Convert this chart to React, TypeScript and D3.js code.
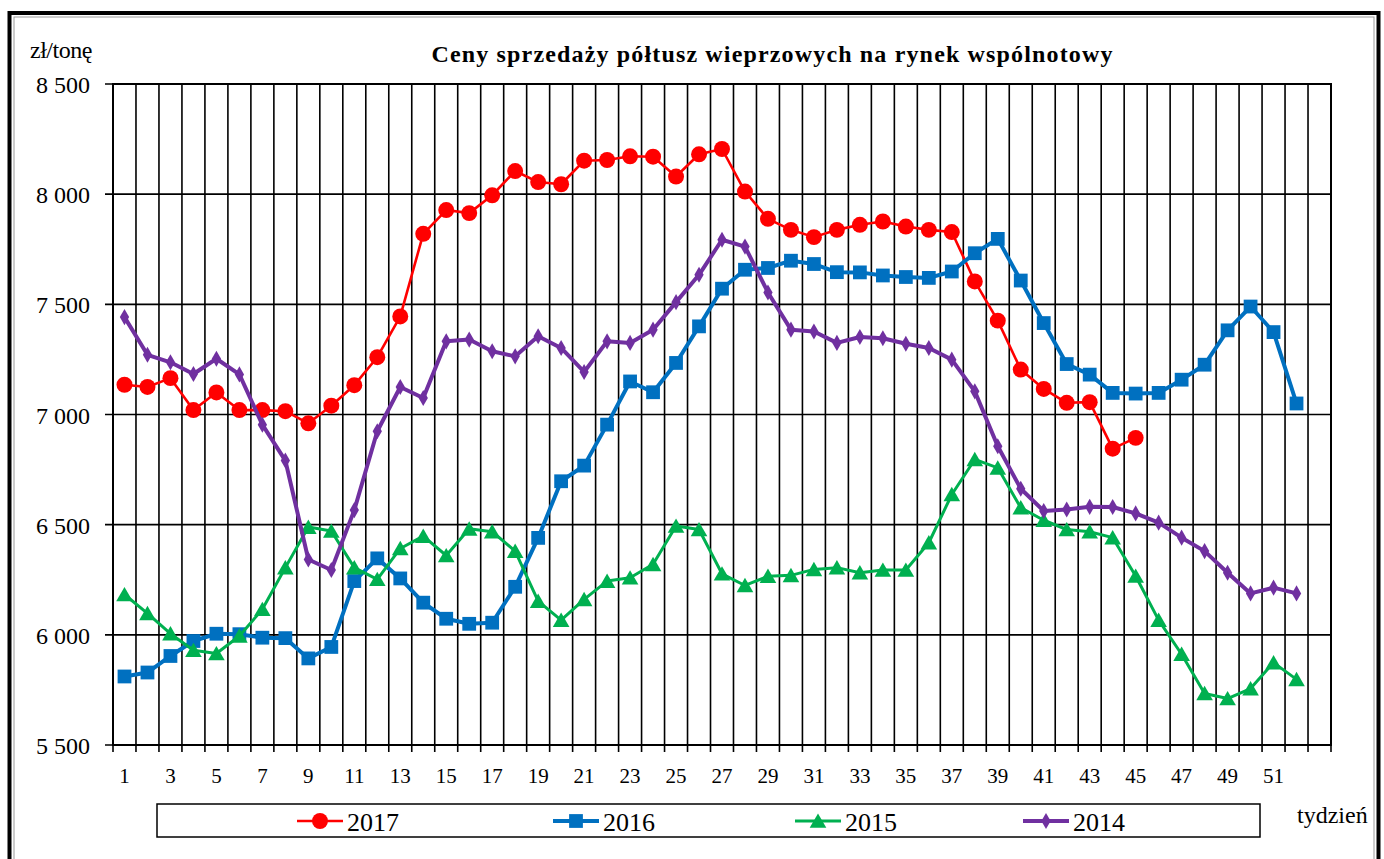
import React from "react";
import * as d3 from "d3";

const weeks = d3.range(1, 54);
const tickWeeks = [1, 3, 5, 7, 9, 11, 13, 15, 17, 19, 21, 23, 25, 27, 29, 31, 33, 35, 37, 39, 41, 43, 45, 47, 49, 51];
const yTicks = [5500, 6000, 6500, 7000, 7500, 8000, 8500];

const s2017 = [7135, 7125, 7165, 7020, 7100, 7020, 7020, 7015, 6960, 7040, 7133, 7260, 7445, 7820, 7928, 7914, 7995, 8105, 8055, 8045, 8152, 8155, 8172, 8170, 8080, 8181, 8205, 8012, 7888, 7838, 7805, 7838, 7861, 7876, 7853, 7838, 7828, 7604, 7426, 7204, 7116, 7053, 7056, 6845, 6894];
const s2016 = [5811, 5829, 5904, 5972, 6005, 6003, 5987, 5985, 5893, 5945, 6244, 6347, 6256, 6146, 6073, 6050, 6055, 6218, 6440, 6697, 6768, 6954, 7150, 7101, 7234, 7400, 7571, 7657, 7665, 7698, 7683, 7646, 7645, 7631, 7624, 7620, 7649, 7732, 7797, 7608, 7415, 7229, 7181, 7098, 7095, 7098, 7158, 7226, 7382, 7490, 7374, 7050];
const s2015 = [6183, 6097, 6005, 5930, 5915, 5995, 6116, 6305, 6489, 6471, 6305, 6252, 6392, 6448, 6360, 6481, 6468, 6380, 6153, 6067, 6161, 6244, 6259, 6320, 6494, 6478, 6277, 6224, 6266, 6270, 6297, 6305, 6282, 6294, 6294, 6418, 6637, 6796, 6758, 6577, 6520, 6478, 6468, 6441, 6267, 6067, 5912, 5734, 5711, 5756, 5874, 5798];
const s2014 = [7442, 7271, 7237, 7184, 7253, 7182, 6954, 6791, 6342, 6294, 6566, 6924, 7125, 7075, 7332, 7340, 7287, 7264, 7355, 7302, 7193, 7332, 7325, 7385, 7510, 7634, 7793, 7762, 7554, 7385, 7377, 7325, 7352, 7346, 7321, 7302, 7249, 7105, 6856, 6663, 6562, 6569, 6581, 6580, 6551, 6509, 6441, 6380, 6282, 6188, 6214, 6188];

const seriesNames = ["2017", "2016", "2015", "2014"];
const seriesData = [s2017, s2016, s2015, s2014];
const seriesColors = ["#FF0000", "#0070C0", "#00B050", "#7030A0"];
const seriesWidths = [2.6, 4, 3, 4];
const seriesSymbols = [d3.symbolCircle, d3.symbolSquare, d3.symbolTriangle, d3.symbolDiamond];
const seriesSymbolSizes = [200, 190, 120, 75];
const legendX = [297, 553, 795, 1023];

const W = 1384;
const H = 859;
const left = 113, right = 1331, top = 84, bottom = 745;
const serifStyle = { fontFamily: '"Liberation Serif", "Times New Roman", Times, serif' };

export default function App() {
  const x = d3.scaleBand<number>().domain(weeks).range([left, right]).paddingInner(0).paddingOuter(0);
  const y = d3.scaleLinear().domain([5500, 8500]).range([bottom, top]);
  const cx = (w: number) => (x(w) as number) + x.bandwidth() / 2;

  const line = d3
    .line<number>()
    .x((_, i) => cx(i + 1))
    .y((d) => y(d));

  const boundaries = weeks.map((w) => x(w) as number).concat([right]);

  return (
    <svg width={W} height={H} style={{ position: "absolute", left: 0, top: 0, background: "#fff" }}>
      <rect x={0} y={0} width={W} height={H} fill="#fff" />
      <rect x={9.5} y={13} width={1369} height={900} fill="none" stroke="#000" strokeWidth={4} />
      <rect x={14} y={17} width={1360} height={900} fill="none" stroke="#999" strokeWidth={1} />

      <g style={serifStyle}>
        <text x={772} y={62} textAnchor="middle" fontWeight="bold" fontSize={24} textLength={681} lengthAdjust="spacing">
          Ceny sprzedaży półtusz wieprzowych  na rynek wspólnotowy
        </text>
        <text x={30} y={58} fontSize={24} letterSpacing={-0.5}>
          zł/tonę
        </text>
      </g>

      {boundaries.map((bx, i) => (
        <line key={"v" + i} x1={bx} x2={bx} y1={top} y2={bottom + 7} stroke="#000" strokeWidth={1.6} />
      ))}
      {yTicks.map((t) => (
        <g key={"h" + t}>
          <line x1={left - 8} x2={right} y1={y(t)} y2={y(t)} stroke="#000" strokeWidth={1.6} />
          <text x={90} y={y(t) + 9} textAnchor="end" fontSize={24} style={serifStyle}>
            {d3.format(",")(t).replace(",", " ")}
          </text>
        </g>
      ))}
      <rect x={left} y={top} width={right - left} height={bottom - top} fill="none" stroke="#000" strokeWidth={2} />

      {tickWeeks.map((w) => (
        <text key={"xt" + w} x={cx(w)} y={783} textAnchor="middle" fontSize={21} style={serifStyle}>
          {w}
        </text>
      ))}

      {seriesData.map((data, si) => (
        <g key={"s" + si}>
          <path d={line(data) as string} fill="none" stroke={seriesColors[si]} strokeWidth={seriesWidths[si]} strokeLinejoin="round" />
          {data.map((v, i) => (
            <path
              key={i}
              d={d3.symbol().type(seriesSymbols[si]).size(seriesSymbolSizes[si])() as string}
              transform={`translate(${cx(i + 1)},${y(v) + (si === 2 ? 2 : 0)})`}
              fill={seriesColors[si]}
            />
          ))}
        </g>
      ))}

      <rect x={157} y={804} width={1103} height={33} fill="#fff" stroke="#000" strokeWidth={1.5} />
      {seriesNames.map((n, i) => (
        <g key={"lg" + n}>
          <line x1={legendX[i]} x2={legendX[i] + 46} y1={821} y2={821} stroke={seriesColors[i]} strokeWidth={seriesWidths[i]} />
          <path
            d={d3.symbol().type(seriesSymbols[i]).size(seriesSymbolSizes[i])() as string}
            transform={`translate(${legendX[i] + 23},${821 + (i === 2 ? 2 : 0)})`}
            fill={seriesColors[i]}
          />
          <text x={legendX[i] + 50} y={831} fontSize={26} style={serifStyle}>
            {n}
          </text>
        </g>
      ))}
      <text x={1297} y={823} fontSize={24} style={serifStyle}>
        tydzień
      </text>
    </svg>
  );
}
